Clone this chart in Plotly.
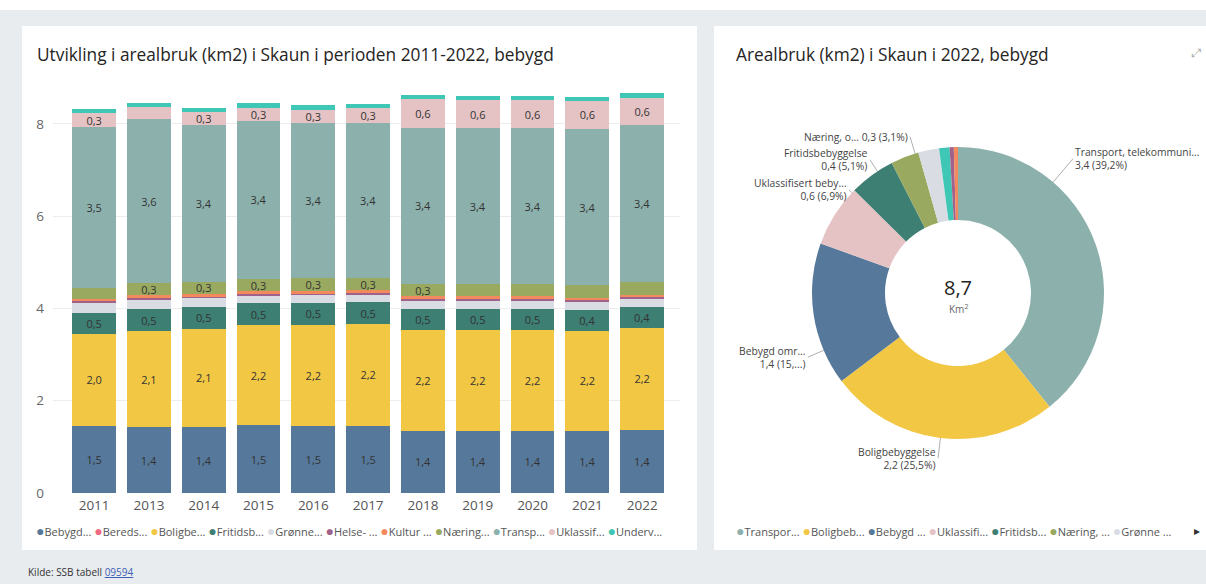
import math
import plotly.graph_objects as go

W, H = 1206, 584
FIG_H = 593  # the page capture squeezes the page a little vertically

aar = ["2011", "2013", "2014", "2015", "2016", "2017", "2018", "2019", "2020", "2021", "2022"]

kategorier = [
    "Bebygd område for landbruk og fiske",
    "Beredskap",
    "Boligbebyggelse",
    "Fritidsbebyggelse",
    "Grønne områder og idrettsanlegg",
    "Helse- og omsorgsinstitusjoner",
    "Kultur og forskning",
    "Næring, offentlig og privat tjenesteyting",
    "Transport, telekommunikasjon og teknisk infrastruktur",
    "Uklassifisert bebyggelse og anlegg",
    "Undervisning og barnehager",
]
legend_kort = ["Bebygd...", "Bereds...", "Boligbe...", "Fritidsb...", "Grønne...", "Helse- ...",
               "Kultur ...", "Næring...", "Transp...", "Uklassif...", "Underv..."]
pie_legend_kort = ["Bebygd ...", "Bereds...", "Boligbeb...", "Fritidsb...", "Grønne ...", "Helse- ...",
                   "Kultur ...", "Næring, ...", "Transpor...", "Uklassifi...", "Underv..."]
pie_etikett_navn = ["Bebygd omr...", None, "Boligbebyggelse", "Fritidsbebyggelse", None, None,
                    None, "Næring, o...", "Transport, telekommuni...", "Uklassifisert beby...", None]

bebygd = [1.46, 1.42, 1.43, 1.47, 1.46, 1.46, 1.35, 1.35, 1.35, 1.35, 1.37]
beredskap = [0.0, 0.0, 0.0, 0.0, 0.0, 0.0, 0.0, 0.0, 0.0, 0.0, 0.0]
bolig = [1.98, 2.09, 2.13, 2.17, 2.18, 2.20, 2.18, 2.18, 2.18, 2.17, 2.21]
fritid = [0.47, 0.47, 0.48, 0.47, 0.48, 0.47, 0.46, 0.46, 0.46, 0.44, 0.44]
gronne = [0.22, 0.20, 0.18, 0.18, 0.18, 0.18, 0.20, 0.20, 0.20, 0.20, 0.20]
helse = [0.04, 0.05, 0.05, 0.04, 0.04, 0.04, 0.04, 0.04, 0.04, 0.04, 0.04]
kultur = [0.04, 0.05, 0.04, 0.04, 0.04, 0.04, 0.03, 0.03, 0.03, 0.03, 0.04]
naering = [0.24, 0.26, 0.27, 0.27, 0.27, 0.27, 0.27, 0.26, 0.26, 0.27, 0.27]
transport = [3.48, 3.57, 3.40, 3.42, 3.37, 3.36, 3.38, 3.38, 3.38, 3.39, 3.40]
uklass = [0.30, 0.25, 0.28, 0.29, 0.29, 0.32, 0.62, 0.62, 0.62, 0.61, 0.60]
underv = [0.09, 0.10, 0.09, 0.10, 0.09, 0.09, 0.09, 0.09, 0.09, 0.09, 0.10]

serier = [bebygd, beredskap, bolig, fritid, gronne, helse, kultur, naering, transport, uklass, underv]

# which labels Power BI actually showed
alle = [True] * len(aar)
ingen = [False] * len(aar)
vis_etikett = [alle, ingen, alle, alle, ingen, ingen, ingen,
               [False, True, True, True, True, True, True, False, False, False, False],
               alle,
               [True, False, True, True, True, True, True, True, True, True, True],
               ingen]

farger = ["#56789A", "#EF6A7E", "#F2C744", "#3D7F73", "#D9DDE3", "#A0628A",
          "#F38A5E", "#99A95F", "#8CB1AC", "#E5C3C4", "#3EC7B5"]

GRA = "#E9ECEF"
TEKST = "#252423"
FONT = "Open Sans"


def komma(v):
    return f"{v:.1f}".replace(".", ",")


def px_x(x):
    return x / W


def px_y(y):
    return 1 - y / H


def tekst(text, x, y, size, color=TEKST, anchor="left", **kw):
    return dict(text=text, xref="paper", yref="paper", x=px_x(x), y=px_y(y),
                xanchor=anchor, yanchor="middle", showarrow=False,
                font=dict(size=size, color=color, family=FONT), **kw)


fig = go.Figure()

for navn, verdier, vis, farge in zip(kategorier, serier, vis_etikett, farger):
    fig.add_trace(go.Bar(
        x=aar, y=verdier, name=navn,
        marker=dict(color=farge, line=dict(width=0)),
        text=[komma(v) if s else "" for v, s in zip(verdier, vis)],
        textposition="inside", textangle=0, constraintext="none",
        insidetextanchor="middle",
        textfont=dict(color="#333333", size=11, family=FONT),
        showlegend=False,
    ))

# donut for 2022, sorted like Power BI
siste = [s[-1] for s in serier]
total = sum(siste)
rekkefolge = [i for i in sorted(range(len(siste)), key=lambda i: -siste[i]) if siste[i] > 0]

pie_x = [812, 1104]
pie_y = [147, 439]
fig.add_trace(go.Pie(
    labels=[pie_legend_kort[i] for i in rekkefolge],
    values=[siste[i] for i in rekkefolge],
    marker=dict(colors=[farger[i] for i in rekkefolge], line=dict(width=0)),
    hole=0.5, sort=False, direction="clockwise", rotation=0,
    textinfo="none", showlegend=False,
    domain=dict(x=[px_x(pie_x[0]), px_x(pie_x[1])], y=[px_y(pie_y[1]), px_y(pie_y[0])]),
))

bg_shapes = [
    dict(type="rect", xref="paper", yref="paper", x0=0, x1=1, y0=px_y(10), y1=1,
         fillcolor="white", line=dict(width=0), layer="below"),
    dict(type="rect", xref="paper", yref="paper", x0=px_x(22), x1=px_x(697), y0=px_y(550), y1=px_y(26),
         fillcolor="white", line=dict(width=0), layer="below"),
    dict(type="rect", xref="paper", yref="paper", x0=px_x(714), x1=1.01, y0=px_y(550), y1=px_y(26),
         fillcolor="white", line=dict(width=0), layer="below"),
]

annotations = [
    tekst("Utvikling i arealbruk (km2) i Skaun i perioden 2011-2022, bebygd", 35, 55, 17.3),
    tekst("Arealbruk (km2) i Skaun i 2022, bebygd", 734, 55, 17.3),
    tekst("8,7", 958, 287, 20, anchor="center"),
    tekst("Km<sup>2</sup>", 958, 309, 10, color="#666666", anchor="center"),
    tekst('Kilde: SSB tabell <a href="https://www.ssb.no/statbank/table/09594" '
          'style="color:#3F5FB5;text-decoration:underline">09594</a>', 26, 572, 10, color="#333333"),
    tekst("⤢", 1196, 52, 12, color="#AAAAAA", anchor="center"),
]

# legends as one line of text each


def prikk(farge):
    return f'<span style="color:{farge};font-size:14px">●</span>'


venstre_legend = " ".join(f"{prikk(f)}{n}" for f, n in zip(farger, legend_kort))
hoyre_legend = " ".join(f"{prikk(farger[i])}{pie_legend_kort[i]}" for i in rekkefolge[:7])
annotations += [
    tekst(venstre_legend, 34, 530, 11, color="#555555"),
    tekst(hoyre_legend, 734, 530, 11, color="#555555"),
    tekst("▸", 1197, 530, 12, color="#333333", anchor="center"),
]

# outside donut labels with leader lines
cx = (pie_x[0] + pie_x[1]) / 2
cy = (pie_y[0] + pie_y[1]) / 2
R = (pie_x[1] - pie_x[0]) / 2
etikett_plass = {  # label anchor in px and side
    8: (1073, 159, "left"),
    2: (938, 458, "right"),
    0: (808, 357, "right"),
    9: (849, 190, "right"),
    3: (870, 160, "right"),
    7: (910, 137, "right"),
}
for i, (ax_px, ay_px, side) in etikett_plass.items():
    v = siste[i]
    pst = komma(v / total * 100)
    if i == 0:
        t = f"{pie_etikett_navn[i]}<br>{komma(v)} (15,...)"
    elif i == 7:
        t = f"{pie_etikett_navn[i]} {komma(v)} ({pst}%)"
    else:
        t = f"{pie_etikett_navn[i]}<br>{komma(v)} ({pst}%)"
    theta = math.atan2(ax_px - cx, -(ay_px - cy))
    tx = cx + R * math.sin(theta)
    ty = cy - R * math.cos(theta)
    annotations.append(dict(
        text=t, xref="paper", yref="paper", x=px_x(tx), y=px_y(ty),
        ax=ax_px - tx, ay=(ay_px - ty) * FIG_H / H,
        showarrow=True, arrowhead=0, arrowwidth=0.8, arrowcolor="#999999",
        xanchor=side, yanchor="middle", align=side,
        font=dict(size=10.3, color="#444444", family=FONT),
    ))

fig.update_layout(
    width=W, height=FIG_H,
    margin=dict(l=0, r=0, t=0, b=0),
    paper_bgcolor=GRA, plot_bgcolor="rgba(0,0,0,0)",
    barmode="stack", bargap=0.2,
    font=dict(family=FONT, color=TEKST),
    shapes=bg_shapes,
    annotations=annotations,
    xaxis=dict(
        domain=[px_x(53), px_x(680)], type="category",
        range=[-0.75, 10.69], showgrid=False, showline=False, zeroline=False,
        ticks="", tickfont=dict(size=13.5, color="#555555", family=FONT),
        ticklabelstandoff=2,
    ),
    yaxis=dict(
        domain=[px_y(493), px_y(90.6)], range=[0, 8.72],
        tickvals=[0, 2, 4, 6, 8], showgrid=True, gridcolor="#EDEDED", gridwidth=1,
        zeroline=False, showline=False, ticks="",
        tickfont=dict(size=13.5, color="#666666", family=FONT),
        ticklabelstandoff=8,
    ),
    uniformtext=dict(minsize=8, mode="show"),
    showlegend=False,
)

fig.write_html(
    "out.html",
    config={"displayModeBar": False},
    post_script="document.documentElement.style.overflow='hidden';"
                "document.body.style.margin='0';document.body.style.overflow='hidden';",
)
